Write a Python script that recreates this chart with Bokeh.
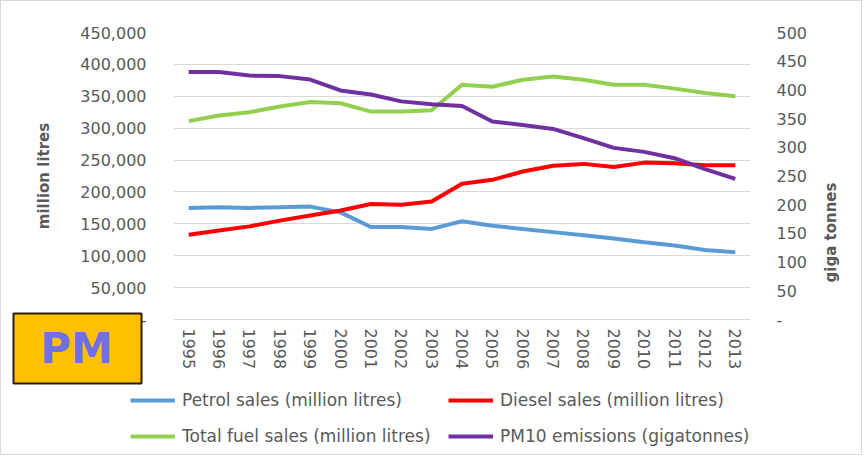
import math
import numpy as np
from bokeh.plotting import figure
from bokeh.models import (ColumnDataSource, FactorRange, Range1d, LinearAxis,
                          SingleIntervalTicker, NumeralTickFormatter, Legend,
                          LegendItem, Label, BoxAnnotation)
from bokeh.embed import file_html
from bokeh.resources import INLINE

# ---------------- data ----------------
years = ["1995", "1996", "1997", "1998", "1999", "2000", "2001", "2002", "2003",
         "2004", "2005", "2006", "2007", "2008", "2009", "2010", "2011", "2012", "2013"]
petrol_sales = [175000, 176000, 175000, 176000, 177000, 168000, 145000, 145000, 142000,
                154000, 147000, 142000, 137000, 132000, 127000, 121000, 116000, 109000, 105500]
diesel_sales = [133000, 139500, 146000, 155000, 163000, 171000, 181000, 180000, 185000,
                213000, 219000, 232000, 241000, 244000, 239000, 246000, 245000, 242000, 242000]
total_fuel_sales = [311000, 320000, 325000, 334000, 341000, 339000, 326000, 326000, 328000,
                    368000, 365000, 376000, 381000, 376000, 368000, 368000, 362000, 355000, 350000]
pm10_emissions = [431, 431, 425, 424, 418, 399, 392, 380, 375, 372,
                  345, 339, 332, 316, 299, 292, 281, 262, 245]

series_names = ["Petrol sales (million litres)", "Diesel sales (million litres)",
                "Total fuel sales (million litres)", "PM10 emissions (gigatonnes)"]
series_colors = ["#5B9BD5", "#FF0000", "#92D050", "#7030A0"]
left_title = "million litres"
right_title = "giga tonnes"
badge_text = "PM"

src = ColumnDataSource(dict(year=years, petrol=petrol_sales, diesel=diesel_sales,
                            total=total_fuel_sales, pm10=pm10_emissions))

FONT = "DejaVu Sans"
GREY = "#595959"
W, H = 862, 455

# ---------------- main chart ----------------
p = figure(width=W, height=H, x_range=FactorRange(*years, range_padding=0),
           y_range=Range1d(0, 450000), output_backend="svg", toolbar_location=None,
           title=None, min_border_left=172, min_border_right=113,
           min_border_top=31, min_border_bottom=137)
p.extra_y_ranges = {"right": Range1d(0, 500)}
p.outline_line_color = None
p.background_fill_color = "white"
p.border_fill_color = "white"
p.styles = {"border": "1px solid #d9d9d9"}

p.xgrid.grid_line_color = None
p.ygrid.grid_line_color = "#d9d9d9"
p.ygrid.grid_line_width = 1

ya = p.yaxis[0]
ya.ticker = SingleIntervalTicker(interval=50000)
ya.formatter = NumeralTickFormatter(format="0,0")
ya.major_label_overrides = {0: "-"}
ya.axis_line_color = None
ya.major_tick_line_color = None
ya.minor_tick_line_color = None
ya.major_tick_out = 0
ya.major_label_standoff = 23
ya.major_label_text_font = FONT
ya.major_label_text_font_size = "16px"
ya.major_label_text_color = GREY
ya.axis_label = left_title
ya.axis_label_text_font = FONT
ya.axis_label_text_font_size = "15px"
ya.axis_label_text_font_style = "bold"
ya.axis_label_text_color = GREY
ya.axis_label_standoff = 24

ra = LinearAxis(y_range_name="right", ticker=SingleIntervalTicker(interval=50))
ra.major_label_overrides = {0: "-"}
ra.axis_line_color = None
ra.major_tick_line_color = None
ra.minor_tick_line_color = None
ra.major_tick_out = 0
ra.major_label_standoff = 22
ra.major_label_text_font = FONT
ra.major_label_text_font_size = "16px"
ra.major_label_text_color = GREY
p.add_layout(ra, "right")

xa = p.xaxis[0]
xa.major_label_orientation = "vertical"
xa.axis_line_color = "#d9d9d9"
xa.major_tick_line_color = None
xa.minor_tick_line_color = None
xa.major_tick_out = 0
xa.major_label_standoff = 9
xa.major_label_text_font = FONT
xa.major_label_text_font_size = "16px"
xa.major_label_text_color = GREY

lw = 4
p.line("year", "petrol", source=src, line_color=series_colors[0], line_width=lw, line_join="round")
p.line("year", "diesel", source=src, line_color=series_colors[1], line_width=lw, line_join="round")
p.line("year", "total", source=src, line_color=series_colors[2], line_width=lw, line_join="round")
p.line("year", "pm10", source=src, line_color=series_colors[3], line_width=lw, line_join="round",
       y_range_name="right")

# ---------------- transparent overlay: legend, badge, right title ----------------
OV_W, OV_H = W + 2, H + 2
ov = figure(width=OV_W, height=OV_H, x_range=Range1d(0, 1), y_range=Range1d(0, 1),
            output_backend="svg", toolbar_location=None, title=None,
            x_axis_type=None, y_axis_type=None,
            min_border_left=0, min_border_right=0, min_border_top=0, min_border_bottom=0)
ov.grid.visible = False
ov.outline_line_color = None
ov.background_fill_alpha = 0
ov.border_fill_alpha = 0
ov.styles = {"margin-top": f"-{OV_H}px"}

# legend keys only (no drawable points)
key_renderers = [ov.line(x=np.array([np.nan]), y=np.array([np.nan]), line_color=c, line_width=lw)
                 for c in series_colors]
order = [0, 2, 1, 3]   # legend fills column by column
legend = Legend(items=[LegendItem(label=series_names[i], renderers=[key_renderers[i]]) for i in order],
                ncols=2, location=(130, 5))
legend.border_line_color = None
legend.background_fill_alpha = 0
legend.padding = 0
legend.margin = 0
legend.spacing = 8
legend.glyph_width = 45
legend.glyph_height = 28
legend.label_height = 28
legend.label_width = 258
legend.label_standoff = 7
legend.label_text_font = FONT
legend.label_text_font_size = "17px"
legend.label_text_color = GREY
ov.add_layout(legend, "center")

ov.add_layout(BoxAnnotation(left=13, right=141, top=142, bottom=72,
                            left_units="screen", right_units="screen",
                            top_units="screen", bottom_units="screen",
                            fill_color="#FFC000", fill_alpha=1.0,
                            line_color="#2b1d0e", line_width=2, line_alpha=1.0))
ov.add_layout(Label(x=76, y=107, x_units="screen", y_units="screen", text=badge_text,
                    text_align="center", text_baseline="alphabetic",
                    text_font=FONT, text_font_size="42px", text_font_style="bold",
                    text_color="#6f6fe6"))
ov.add_layout(Label(x=830, y=223, x_units="screen", y_units="screen", text=right_title,
                    angle=math.pi / 2, text_align="center", text_baseline="middle",
                    text_font=FONT, text_font_size="15px", text_font_style="bold",
                    text_color=GREY))

open("out.html", "w").write(file_html([p, ov], INLINE))
